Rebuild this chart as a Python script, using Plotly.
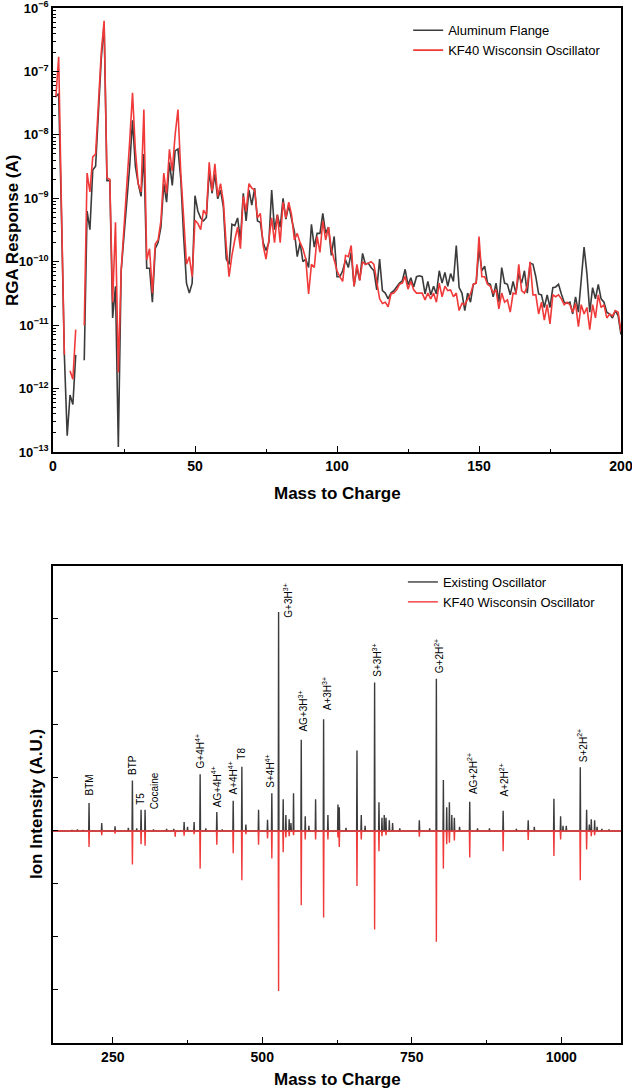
import plotly.graph_objects as go

# ---------------- data: top panel (RGA scan) ----------------
mass_amu = list(range(1, 201))

aluminum_flange_A = [
    4.0e-8, 4.5e-8, 5.0e-10, 3.4e-12, 1.8e-13, 7.9e-13, 5.6e-13, 3.4e-12, None, None,
    2.8e-12, 6.3e-10, 3.2e-10, 2.8e-9, 3.2e-9, 2.5e-8, 1.6e-7, 5.6e-7, 1.9e-9, 1.9e-9,
    1.3e-11, 4.1e-11, 1.2e-13, 7.2e-11, 2.5e-10, 1.0e-9, 3.2e-9, 1.7e-8, 3.2e-9, 1.7e-9,
    1.07e-9, 5.0e-9, 7.9e-11, 7.9e-11, 2.3e-11, 1.6e-10, 2.0e-10, 3.5e-10, 1.7e-9, 8.7e-10,
    3.7e-9, 1.6e-9, 5.6e-9, 6.0e-9, 2.0e-9, 2.5e-10, 4.6e-11, 3.2e-11, 4.6e-11, 1.1e-9,
    6.3e-10, 4.9e-10, 4.4e-10, 5.0e-10, 2.7e-9, 1.2e-9, 2.4e-9, 9.8e-10, 1.35e-9, 7.2e-10,
    1.1e-10, 9.1e-11, 3.9e-10, 3.7e-10, 4.9e-10, 2.2e-10, 1.2e-9, 4.4e-10, 1.35e-9, 7.8e-10,
    1.45e-9, 4.4e-10, 4.2e-10, 2.0e-10, 1.5e-10, 2.0e-10, 1.35e-9, 3.2e-10, 5.5e-10, 3.5e-10,
    1.0e-9, 4.7e-10, 7.8e-10, 4.7e-10, 3.0e-10, 1.2e-10, 2.0e-10, 1.0e-10, 1.1e-10, 8.1e-11,
    3.9e-10, 1.7e-10, 2.8e-10, 2.8e-10, 5.8e-10, 2.8e-10, 3.5e-10, 1.26e-10, 2.5e-10, 5.8e-11,
    5.8e-11, 7.2e-11, 1.07e-10, 8.1e-11, 1.4e-10, 4.1e-11, 8.1e-11, 5.1e-11, 1.35e-10, 9.1e-11,
    9.5e-11, 8.1e-11, 7.2e-11, 3.6e-11, 1.1e-10, 3.5e-11, 3.2e-11, 2.6e-11, 3.2e-11, 3.5e-11,
    4.1e-11, 4.6e-11, 5.0e-11, 7.6e-11, 4.3e-11, 5.6e-11, 4.0e-11, 5.8e-11, 6.0e-11, 5.8e-11,
    3.1e-11, 4.9e-11, 3.0e-11, 4.1e-11, 3.1e-11, 7.2e-11, 4.6e-11, 6.8e-11, 4.1e-11, 6.5e-11,
    4.9e-11, 1.8e-10, 3.9e-11, 3.2e-11, 1.7e-11, 3.2e-11, 2.3e-11, 4.4e-11, 4.6e-11, 1.6e-10,
    7.2e-11, 8.5e-11, 4.6e-11, 4.4e-11, 2.8e-11, 4.6e-11, 2.3e-11, 8.1e-11, 4.6e-11, 4.4e-11,
    3.0e-11, 4.9e-11, 3.2e-11, 6.5e-11, 4.6e-11, 7.2e-11, 3.2e-11, 9.5e-11, 9.1e-11, 5.8e-11,
    3.1e-11, 3.0e-11, 1.9e-11, 3.0e-11, 1.9e-11, 3.9e-11, 4.0e-11, 4.4e-11, 3.1e-11, 2.3e-11,
    2.2e-11, 2.3e-11, 1.5e-11, 2.8e-11, 1.6e-11, 5.8e-11, 1.7e-10, 6.5e-11, 1.6e-11, 3.9e-11,
    2.6e-11, 4.4e-11, 2.6e-11, 2.3e-11, 1.6e-11, 1.5e-11, 1.3e-11, 1.7e-11, 1.4e-11, 7.1e-12,
]

kf40_rga_A = [
    3.9e-8, 1.7e-7, 6.3e-10, 3.4e-12, None, 1.9e-12, 1.4e-12, 8.5e-12, None, None,
    1.0e-11, 2.5e-9, 1.26e-9, 4.5e-9, 5.0e-9, 4.0e-8, 2.0e-7, 6.3e-7, 2.1e-9, 2.0e-9,
    2.3e-11, 4.2e-10, 1.8e-12, 7.2e-11, 3.2e-10, 1.4e-9, 7.9e-9, 4.6e-8, 5.8e-9, 1.7e-9,
    1.26e-9, 2.5e-8, 1.07e-10, 1.6e-10, 3.2e-11, 1.9e-10, 2.2e-10, 4.4e-10, 2.5e-9, 1.2e-9,
    5.9e-9, 2.7e-9, 1.0e-8, 2.5e-8, 2.5e-9, 5.0e-10, 9.1e-11, 1.2e-10, 5.8e-11, 4.5e-10,
    4.0e-10, 3.2e-10, 6.5e-10, 5.5e-10, 3.7e-9, 1.3e-9, 3.5e-9, 1.07e-9, 1.7e-9, 8.7e-10,
    1.8e-10, 5.8e-11, 1.26e-10, 2.2e-10, 3.5e-10, 1.6e-10, 1.07e-9, 6.2e-10, 1.7e-9, 1.45e-9,
    1.35e-9, 4.9e-10, 5.8e-10, 1.8e-10, 1.1e-10, 2.2e-10, 4.9e-10, 2.0e-10, 5.5e-10, 2.0e-10,
    8.7e-10, 4.9e-10, 8.7e-10, 5.5e-10, 2.2e-10, 2.8e-10, 2.0e-10, 1.6e-10, 1.1e-10, 3.1e-11,
    9.1e-11, 8.1e-11, 2.5e-10, 1.4e-10, 4.4e-10, 2.2e-10, 3.5e-10, 1.6e-10, 1.1e-10, 7.2e-11,
    5.8e-11, 4.9e-11, 1.26e-10, 1.2e-10, 1.8e-10, 4.1e-11, 9.1e-11, 5.1e-11, 1.0e-10, 9.1e-11,
    9.5e-11, 1.0e-10, 9.1e-11, 5.1e-11, 2.6e-11, 2.2e-11, 2.3e-11, 1.95e-11, 3.1e-11, 3.2e-11,
    3.6e-11, 4.4e-11, 4.6e-11, 5.9e-11, 3.7e-11, 4.9e-11, 3.6e-11, 3.2e-11, 3.2e-11, 3.2e-11,
    2.5e-11, 3.2e-11, 2.6e-11, 3.2e-11, 2.3e-11, 4.6e-11, 2.8e-11, 4.1e-11, 3.5e-11, 3.6e-11,
    2.8e-11, 3.2e-11, 1.7e-11, 2.2e-11, 2.1e-11, 2.6e-11, 3.1e-11, 4.4e-11, 4.6e-11, 2.5e-10,
    5.8e-11, 5.8e-11, 4.4e-11, 4.1e-11, 3.2e-11, 3.6e-11, 1.8e-11, 3.2e-11, 2.3e-11, 2.5e-11,
    1.6e-11, 3.2e-11, 3.1e-11, 9.1e-11, 3.5e-11, 3.2e-11, 4.1e-11, 1.0e-10, 3.0e-11, 3.0e-11,
    1.5e-11, 2.3e-11, 1.2e-11, 2.1e-11, 1.05e-11, 3.0e-11, 2.8e-11, 3.0e-11, 2.6e-11, 2.1e-11,
    2.3e-11, 2.1e-11, 1.6e-11, 2.2e-11, 9.5e-12, 2.1e-11, 1.5e-11, 1.9e-11, 8.5e-12, 2.1e-11,
    1.3e-11, 3.0e-11, 1.9e-11, 2.1e-11, 1.3e-11, 1.5e-11, 1.4e-11, 1.7e-11, 1.6e-11, 7.9e-12,
]

# ---------------- data: bottom panel (mirror mass spectrum) ----------------
existing_mz = [181.6, 190.8, 200.0, 210.3, 231.5, 253.8, 276.0, 282.8, 290.0, 297.3,
               304.0, 318.0, 340.0, 352.0, 369.3, 375.0, 386.0, 396.1, 405.6, 424.0,
               433.0, 451.4, 465.9, 472.6, 493.8, 508.8, 516.0, 527.3, 535.0, 539.5,
               545.0, 548.0, 552.3, 565.2, 571.9, 578.0, 589.2, 602.6, 609.8, 626.6,
               628.8, 640.0, 658.4, 665.6, 672.0, 687.9, 695.2, 700.2, 704.0, 706.9,
               712.5, 718.0, 730.0, 762.7, 780.0, 791.2, 802.9, 808.5, 813.0, 817.0,
               821.3, 830.0, 847.0, 860.0, 880.0, 902.9, 925.0, 944.8, 955.0, 987.8,
               999.0, 1003.0, 1008.5, 1031.9, 1042.5, 1047.0, 1050.3, 1055.9, 1060.0, 1068.0,
               1080.0]
existing_int = [0.02, 0.03, 0.02, 0.53, 0.15, 0.09, 0.06, 0.95, 0.05, 0.40,
                0.40, 0.03, 0.04, 0.04, 0.17, 0.08, 0.17, 1.07, 0.05, 0.36,
                0.03, 0.57, 1.21, 0.12, 0.40, 0.21, 0.71, 4.13, 0.60, 0.30,
                0.22, 0.15, 0.71, 1.72, 0.28, 0.10, 0.60, 2.11, 0.30, 0.50,
                0.45, 0.06, 1.52, 0.30, 0.10, 2.80, 0.54, 0.25, 0.30, 0.25,
                0.20, 0.15, 0.05, 0.20, 0.05, 2.87, 0.96, 0.45, 0.54, 0.30,
                0.25, 0.08, 0.55, 0.05, 0.05, 0.38, 0.04, 0.20, 0.08, 0.61,
                0.28, 0.10, 0.10, 1.20, 0.40, 0.12, 0.22, 0.20, 0.08, 0.04,
                0.03]

kf40_mz = [210.3, 231.5, 253.8, 282.8, 297.3, 304.0, 354.4, 369.3, 386.0, 396.1,
           424.0, 451.4, 465.9, 472.6, 493.8, 508.8, 516.0, 527.3, 535.0, 539.5,
           545.0, 552.3, 565.2, 571.9, 589.2, 602.6, 609.8, 626.6, 628.8, 658.4,
           665.6, 687.9, 695.2, 700.2, 706.9, 762.7, 791.2, 802.9, 808.5, 813.0,
           821.3, 847.0, 902.9, 944.8, 987.8, 999.0, 1031.9, 1042.5, 1050.3, 1055.9]
kf40_int = [-0.30, -0.08, -0.05, -0.63, -0.25, -0.28, -0.11, -0.09, -0.06, -0.71,
            -0.26, -0.42, -0.93, -0.06, -0.26, -0.14, -0.52, -3.02, -0.40, -0.12,
            -0.10, -0.08, -1.40, -0.16, -0.16, -1.63, -0.16, -0.12, -0.30, -1.04,
            -0.16, -1.86, -0.38, -0.10, -0.08, -0.11, -2.09, -0.71, -0.25, -0.22,
            -0.18, -0.50, -0.38, -0.17, -0.47, -0.16, -0.93, -0.35, -0.10, -0.08]

label_text = ["BTM", "BTP", "T5", "Cocaine", "G+4H<sup>4+</sup>", "AG+4H<sup>4+</sup>",
              "A+4H<sup>4+</sup>", "T8", "S+4H<sup>4+</sup>", "G+3H<sup>3+</sup>",
              "AG+3H<sup>3+</sup>", "A+3H<sup>3+</sup>", "S+3H<sup>3+</sup>",
              "G+2H<sup>2+</sup>", "AG+2H<sup>2+</sup>", "A+2H<sup>2+</sup>", "S+2H<sup>2+</sup>"]
label_mz = [210.3, 282.8, 297.3, 304.0, 396.1, 424.0, 451.4, 465.9, 516.0, 527.3,
            565.2, 602.6, 687.9, 791.2, 847.0, 902.9, 1031.9]
# pixel nudges of each label relative to its peak top (style only)
label_dx = [0, 0, 0, 9, 0, 0, 0, 0, -2, 9, 2, 3, 2, 2, 3, 1, 2]
label_dy = [5, 4, 3, -2, 4, 3, 4, 5, 4, -8, 6, 7, 4, 4, 6, 12, 3]

top_x_ticks = [0, 50, 100, 150, 200]
top_y_ticks = [1e-13, 1e-12, 1e-11, 1e-10, 1e-9, 1e-8, 1e-7, 1e-6]
top_y_ticktext = ["10<sup>−13</sup>", "10<sup>−12</sup>", "10<sup>−11</sup>", "10<sup>−10</sup>",
                  "10<sup>−9</sup>", "10<sup>−8</sup>", "10<sup>−7</sup>", "10<sup>−6</sup>"]
bottom_x_ticks = [250, 500, 750, 1000]
bottom_x_range = [150, 1100]

# ---------------- styling ----------------
FONT = "Liberation Sans, Arial, sans-serif"
DARK = "#3b3b3b"
RED = "#f03a3a"


def stick_profile(mz, inten, lo, hi, half=0.6):
    xs, ys = [lo], [0]
    for m, v in sorted(zip(mz, inten)):
        xs += [m - half, m, m + half]
        ys += [0, v, 0]
    xs.append(hi)
    ys.append(0)
    return xs, ys


ex_x, ex_y = stick_profile(existing_mz, existing_int, *bottom_x_range)
kf_x, kf_y = stick_profile(kf40_mz, kf40_int, *bottom_x_range)

fig = go.Figure()
fig.add_trace(go.Scatter(x=mass_amu, y=aluminum_flange_A, mode="lines", name="Aluminum Flange",
                         line=dict(color=DARK, width=1.6), xaxis="x", yaxis="y", legend="legend"))
fig.add_trace(go.Scatter(x=mass_amu, y=kf40_rga_A, mode="lines", name="KF40 Wisconsin Oscillator",
                         line=dict(color=RED, width=1.6), xaxis="x", yaxis="y", legend="legend"))
fig.add_trace(go.Scatter(x=ex_x, y=ex_y, mode="lines", name="Existing Oscillator",
                         line=dict(color=DARK, width=1.4), xaxis="x2", yaxis="y2", legend="legend2"))
fig.add_trace(go.Scatter(x=kf_x, y=kf_y, mode="lines", name="KF40 Wisconsin Oscillator",
                         line=dict(color=RED, width=1.4), xaxis="x2", yaxis="y2", legend="legend2"))

common = dict(showline=True, linecolor="black", linewidth=1.6, mirror=True, ticks="inside",
              tickcolor="black", tickwidth=1.3, showgrid=False, zeroline=False,
              ticklabeloverflow="allow", automargin=False)
xfont = dict(family=FONT, size=14, color="black", weight="bold")
yfont = dict(family=FONT, size=13, color="black", weight="bold")

fig.update_layout(
    width=632, height=1090,
    margin=dict(l=53, r=11, t=8, b=47, autoexpand=False),
    paper_bgcolor="white", plot_bgcolor="white",
    font=dict(family=FONT, color="black"),
    showlegend=True,
    xaxis=dict(domain=[0, 1], anchor="y", range=[-0.001, 200.001], tickvals=top_x_ticks,
               ticklen=6, tickfont=xfont,
               minor=dict(ticks="inside", ticklen=3, tick0=0, dtick=25, tickcolor="black", tickwidth=1.2),
               **common),
    yaxis=dict(domain=[0.571, 1], anchor="x", type="log", range=[-13.0005, -5.9995],
               tickvals=top_y_ticks, ticktext=top_y_ticktext, ticklen=6, tickfont=yfont,
               minor=dict(ticks="inside", ticklen=3, dtick="D1", tickcolor="black", tickwidth=1.0),
               **common),
    xaxis2=dict(domain=[0, 1], anchor="y2", range=bottom_x_range, tickvals=bottom_x_ticks,
                ticklen=6, tickfont=xfont,
                minor=dict(ticks="inside", ticklen=3, tick0=0, dtick=125, tickcolor="black", tickwidth=1.2),
                **common),
    yaxis2=dict(domain=[0, 0.4609], anchor="x2", range=[-4, 5], tick0=0, dtick=1, ticklen=5,
                showticklabels=False, **common),
    legend=dict(x=0.6253, y=0.993, xanchor="left", yanchor="top", bgcolor="rgba(0,0,0,0)",
                font=dict(family=FONT, size=13, color="black"), tracegroupgap=0, itemwidth=30),
    legend2=dict(x=0.616, y=0.4599, xanchor="left", yanchor="top", bgcolor="rgba(0,0,0,0)",
                 font=dict(family=FONT, size=13, color="black"), tracegroupgap=0, itemwidth=30),
)

title_font = dict(family=FONT, size=17, color="black", weight="bold")
annotations = [
    dict(text="Mass to Charge", xref="paper", yref="paper", x=0.5, y=0.5314,
         xanchor="center", yanchor="middle", showarrow=False, font=title_font),
    dict(text="Mass to Charge", xref="paper", yref="paper", x=0.5, y=-0.0357,
         xanchor="center", yanchor="middle", showarrow=False, font=title_font),
    dict(text="RGA Response (A)", xref="paper", yref="paper", x=-0.0722, y=0.7855,
         xanchor="center", yanchor="middle", textangle=-90, showarrow=False, font=title_font),
    dict(text="Ion Intensity (A.U.)", xref="paper", yref="paper", x=-0.028, y=0.231,
         xanchor="center", yanchor="middle", textangle=-90, showarrow=False, font=title_font),
]

peak_height = dict(zip(existing_mz, existing_int))
for txt, mz, dx, dy in zip(label_text, label_mz, label_dx, label_dy):
    annotations.append(dict(text=txt, x=mz, y=peak_height[mz], xref="x2", yref="y2",
                            xanchor="center", yanchor="bottom", textangle=-90,
                            xshift=dx, yshift=dy, showarrow=False,
                            font=dict(family=FONT, size=10, color="black")))

fig.update_layout(annotations=annotations)
fig.write_html("out.html")
